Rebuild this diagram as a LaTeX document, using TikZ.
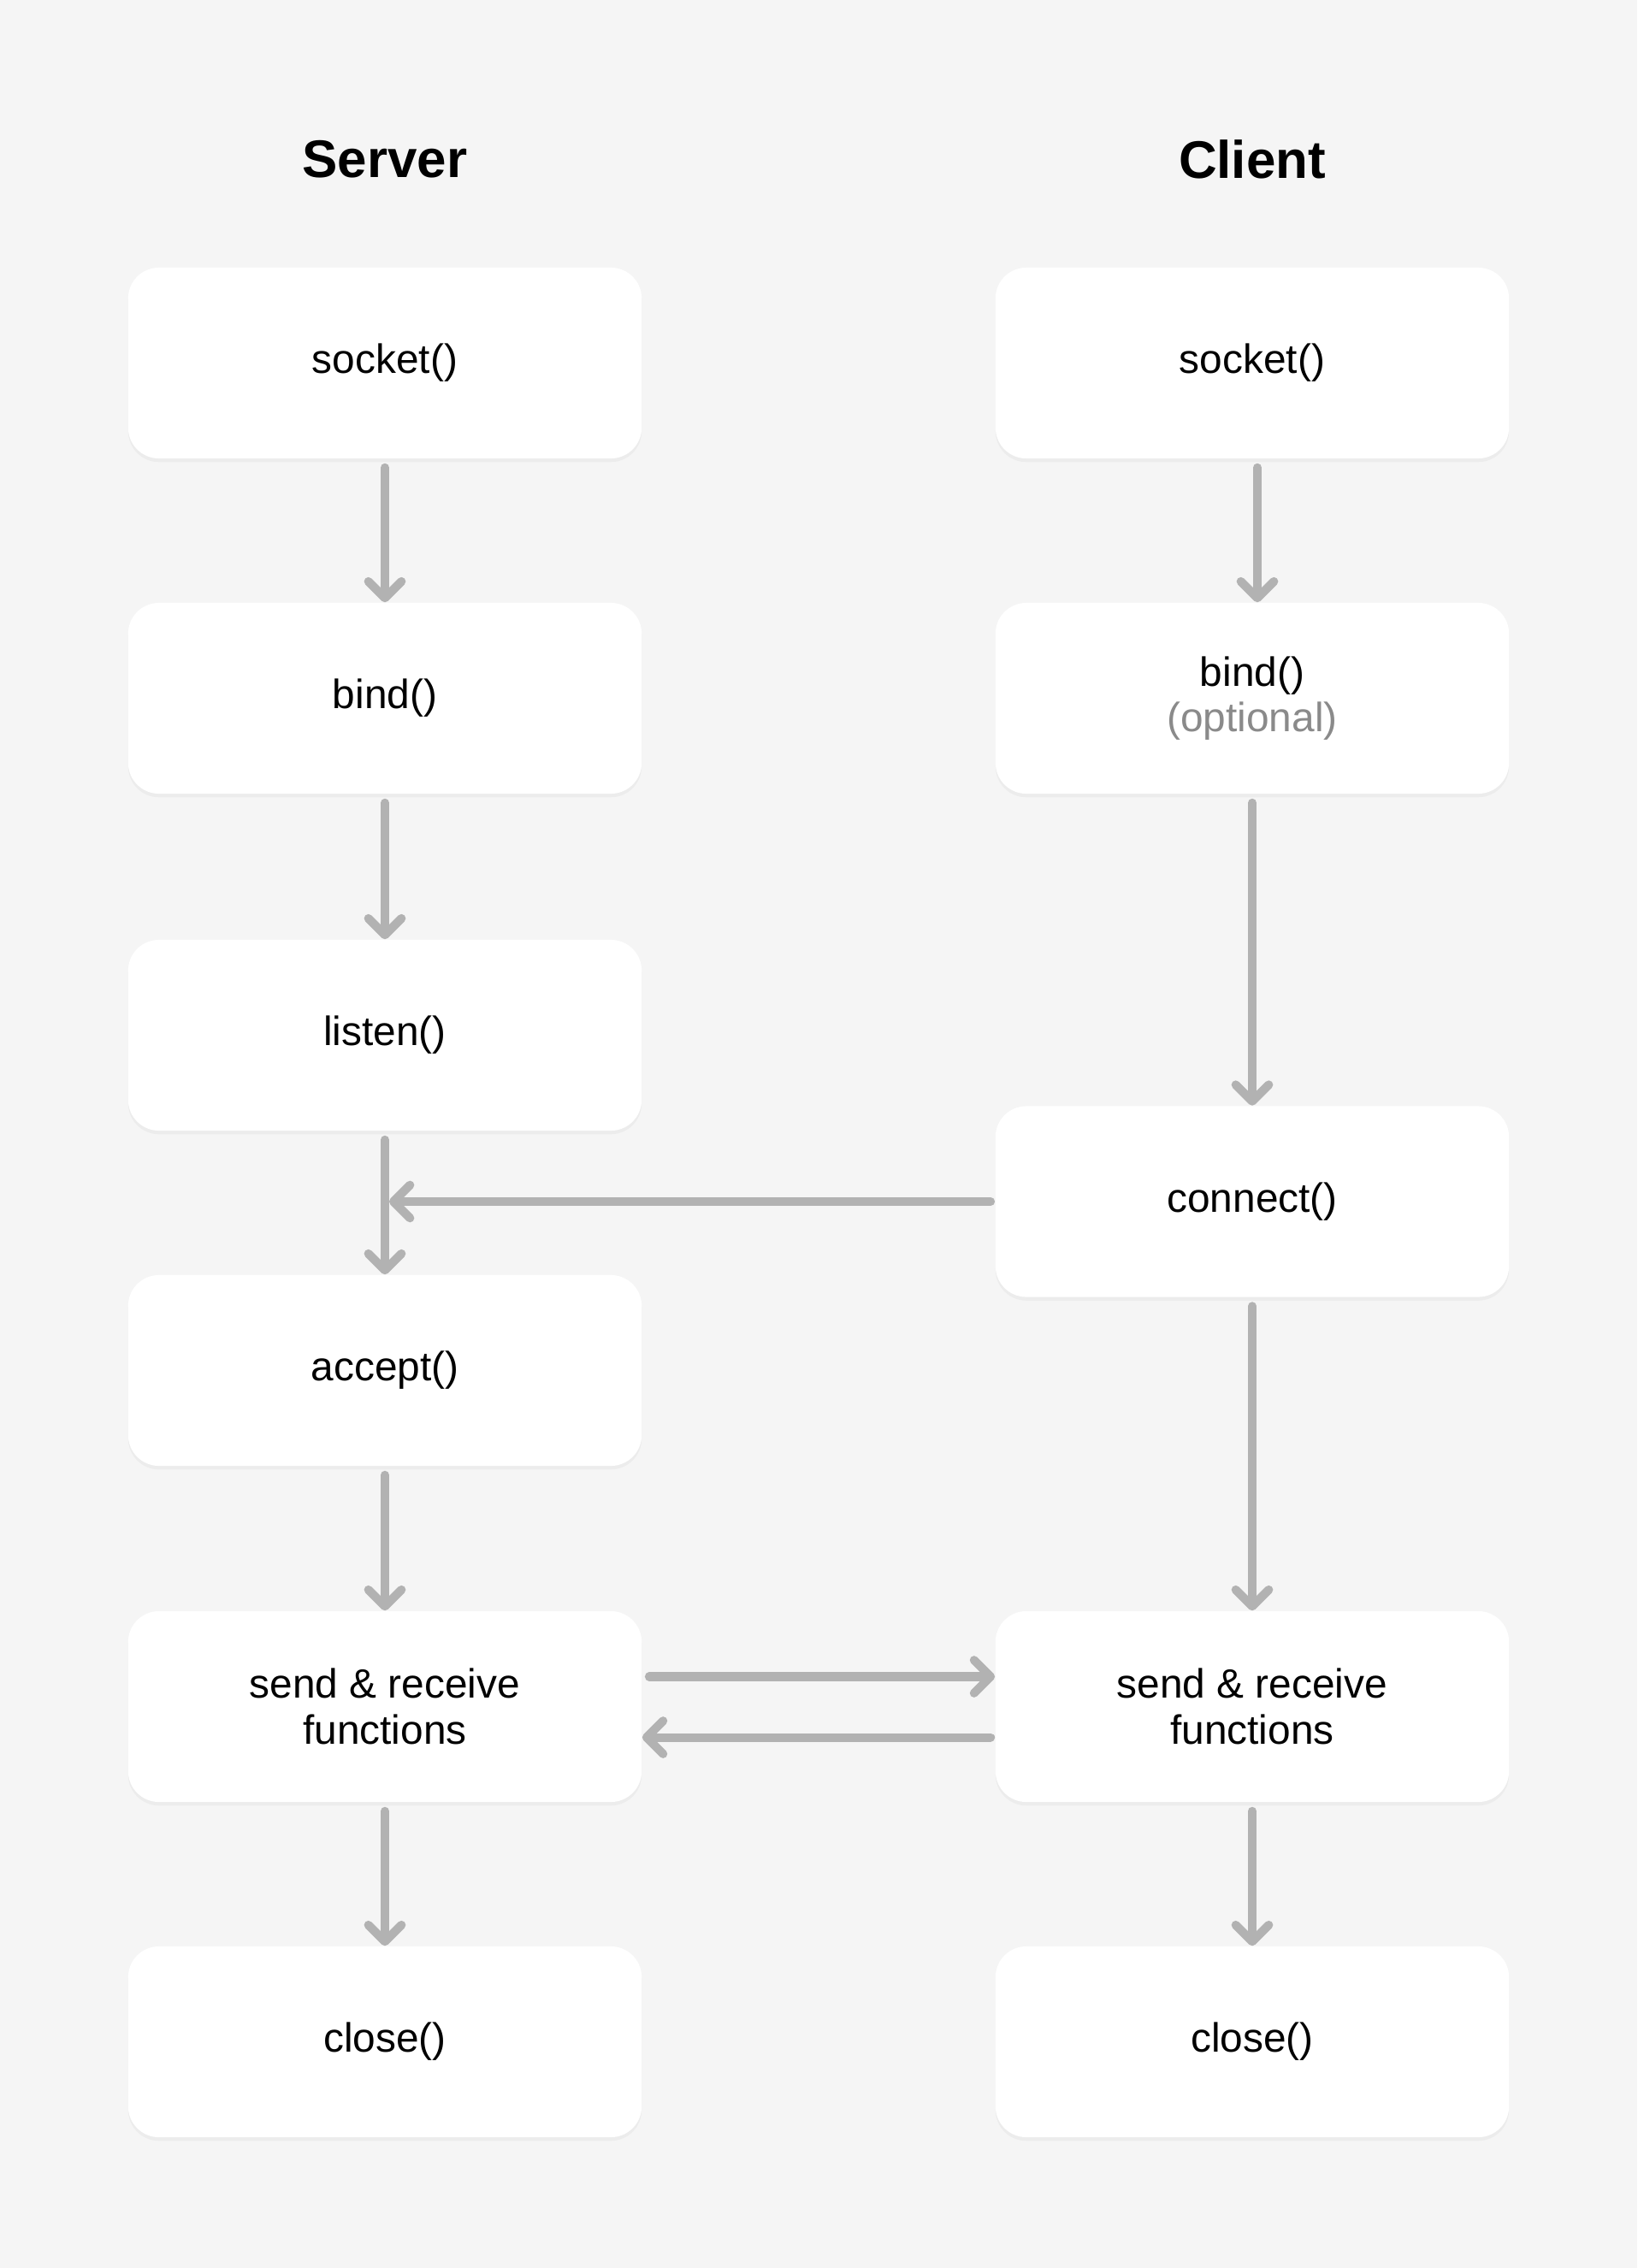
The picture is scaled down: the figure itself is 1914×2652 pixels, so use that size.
\documentclass[tikz,border=0pt]{standalone}
\usepackage{fontspec}
\setmainfont{Liberation Sans}
\usetikzlibrary{arrows.meta}
\usetikzlibrary{shadows}
\colorlet{background}{black!4}
\colorlet{penColor}{black!30}
\colorlet{noteColor}{black!46}
\tikzset{>={Straight Barb[length=5.5pt,width=11pt,round]}}
\tikzset{
  callbox/.style={fill=white, rounded corners=0.36cm, minimum width=6cm, minimum height=2.23cm,
    align=center, font=\fontsize{13.6}{15.2}\selectfont,
    drop shadow={shadow xshift=0pt, shadow yshift=-1.2pt, opacity=0.035, fill=black}},
  sidetitle/.style={font=\bfseries\fontsize{17.6}{20}\selectfont},
  flow/.style={->, penColor, line width=2.85pt, line cap=round},
}

\begin{document}
\begin{tikzpicture}[x=0.01cm,y=0.01cm]
      \fill[background] (0,0) rectangle (1914,-2652);% page
      \node[sidetitle] (server) at (450,-186) {Server};
      \node[sidetitle] (client) at (1464,-186) {Client};
      % server side
      \node[callbox] (socketS) at (450,-424.5) {socket()};
      \node[callbox] (bindS) at (450,-816.5) {bind()};
      \node[callbox] (listenS) at (450,-1210.5) {listen()};
      \node[callbox] (acceptS) at (450,-1602.5) {accept()};
      \node[callbox] (sendS) at (450,-1995.5) {send \& receive\\functions};
      \node[callbox] (closeS) at (450,-2387.5) {close()};
      % client side
      \node[callbox] (socketC) at (1464,-424.5) {socket()};
      \node[callbox] (bindC) at (1464,-816.5) {bind()\\{\color{noteColor}(optional)}};
      \node[callbox] (connectC) at (1464,-1405) {connect()};
      \node[callbox] (sendC) at (1464,-1995.5) {send \& receive\\functions};
      \node[callbox] (closeC) at (1464,-2387.5) {close()};
      % server arrows
      \draw[flow, shorten <=0.1cm] (socketS.south) -- (bindS.north);
      \draw[flow, shorten <=0.1cm] (bindS.south) -- (listenS.north);
      \draw[flow, shorten <=0.1cm] (listenS.south) -- (acceptS.north);
      \draw[flow, shorten <=0.1cm] (acceptS.south) -- (sendS.north);
      \draw[flow, shorten <=0.1cm] (sendS.south) -- (closeS.north);
      % client arrows
      \draw[flow, shorten <=0.1cm] ([xshift=0.06cm]socketC.south) -- ([xshift=0.06cm]bindC.north);
      \draw[flow, shorten <=0.1cm] (bindC.south) -- (connectC.north);
      \draw[flow, shorten <=0.1cm] (connectC.south) -- (sendC.north);
      \draw[flow, shorten <=0.1cm] (sendC.south) -- (closeC.north);
      % across
      \draw[flow, shorten <=0.05cm, shorten >=0.05cm] (connectC.west) -- (connectC.west -| listenS.south);
      \draw[flow, shorten <=0.08cm] ([yshift=0.35cm]sendS.east) -- ([yshift=0.35cm]sendC.west);
      \draw[flow, shorten <=0.05cm] ([yshift=-0.36cm]sendC.west) -- ([yshift=-0.36cm]sendS.east);
\end{tikzpicture}
\end{document}
